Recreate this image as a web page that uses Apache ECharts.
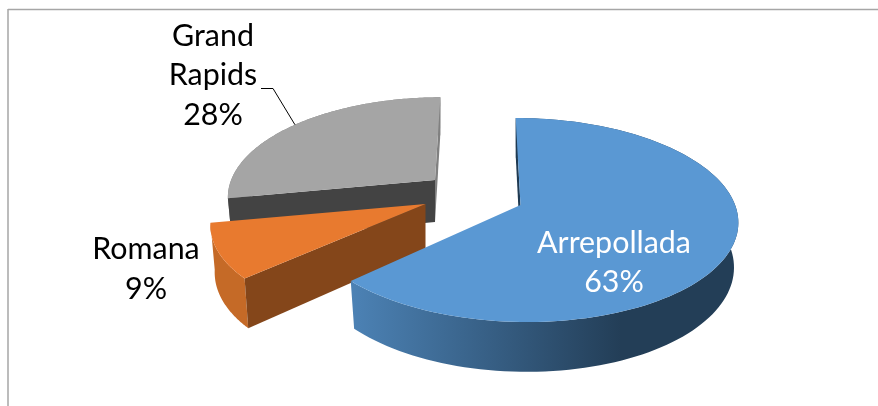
<!DOCTYPE html>
<html><head><meta charset="utf-8">
<style>html,body{margin:0;padding:0;background:#fff}#c{width:878px;height:406px}</style>
<script src="https://cdn.jsdelivr.net/npm/echarts@6/dist/echarts.min.js"></script>
</head><body><div id="c"></div>
<script>
const categories = ['Arrepollada', 'Romana', 'Grand Rapids'];
const values = [63, 9, 28];

const total = values.reduce((a, b) => a + b, 0);
const RX = 214.6, KR = 99.8, PERSP = 0.147, TAU = Math.PI * 2;
const looks = [
  { apex: [520.5, 205], scale: 1, shear: 0.055, depth: 44, layer: 30, top: '#5A98D3', rim: null, cutStart: '#1F3A52', cutEnd: null,
    label: [614, 262.5], color: '#ffffff' },
  { apex: [425.5, 204], scale: 0.98, shear: -0.14, depth: 46, layer: 20, top: '#E87A2F', rim: '#C56A27', cutStart: '#84461A', cutEnd: null,
    label: [146, 269], color: '#000000' },
  { apex: [435, 180], scale: 0.95, shear: -0.065, depth: 42, layer: 10, top: '#A5A5A5', rim: '#808080', cutStart: '#434343', cutEnd: '#808080',
    label: [213, 75.5], color: '#000000', leader: true }
];
const blueWall = new echarts.graphic.LinearGradient(351, 0, 737, 0, [
  { offset: 0, color: '#4C82B5' }, { offset: 0.7, color: '#233E57' }, { offset: 1, color: '#233E57' }
], true);

function project(look, frac) {
  const a = frac * TAU, x = Math.sin(a), y = -Math.cos(a), f = 1 / (1 - PERSP * y);
  const sy = KR * y * f * look.scale;
  const sx = RX * x * f * look.scale + look.shear * sy;
  return [look.apex[0] + sx, look.apex[1] + sy];
}
function lower(look, p) {
  const dx = p[0] - look.apex[0], dy = p[1] - look.apex[1];
  return [look.apex[0] + dx * 0.98, look.apex[1] + dy * 1.05 + look.depth];
}
function poly(points, fill, z2) {
  return { type: 'polygon', z2, shape: { points }, style: { fill, stroke: null } };
}
function renderItem(params, api) {
  const i = params.dataIndex, look = looks[i];
  let before = 0;
  for (let k = 0; k < i; k++) before += values[k];
  const f0 = before / total, f1 = (before + api.value(0)) / total;
  const arc = [];
  for (let n = 0; n <= 120; n++) arc.push(project(look, f0 + (f1 - f0) * n / 120));
  const lowArc = arc.map(p => lower(look, p));
  const apexLow = lower(look, look.apex);
  const start = arc[0], end = arc[arc.length - 1];
  const kids = [];
  const z = look.layer;
  kids.push(poly(arc.concat(lowArc.slice().reverse()), look.rim || blueWall, z));
  if (look.cutEnd) kids.push(poly([end, lowArc[lowArc.length - 1], apexLow, look.apex], look.cutEnd, z + 1));
  if (look.cutStart) kids.push(poly([start, lowArc[0], apexLow, look.apex], look.cutStart, z + 1));
  kids.push(poly([look.apex].concat(arc), look.top, z + 2));
  const pct = Math.round(api.value(0) / total * 100) + '%';
  kids.push({ type: 'text', z2: 60, style: {
    text: categories[i].replace(' ', '\n') + '\n' + pct,
    x: look.label[0], y: look.label[1], align: 'center', verticalAlign: 'middle',
    fontFamily: 'Lato', fontSize: 30.4, lineHeight: 39.5, fill: look.color
  }});
  if (look.leader) {
    const tip = project(look, (f0 + f1) / 2);
    kids.push({ type: 'polyline', z2: 61, shape: { points: [[261, 88.5], [273, 88.5], tip] },
      style: { stroke: '#000', lineWidth: 1, fill: null } });
  }
  return { type: 'group', children: kids };
}

const chart = echarts.init(document.getElementById('c'), null, { renderer: 'canvas' });
chart.setOption({
  animation: false,
  backgroundColor: '#ffffff',
  graphic: [
    { type: 'line', shape: { x1: 8, y1: 9.5, x2: 878, y2: 9.5 }, style: { stroke: '#A6A6A6', lineWidth: 1.5 } },
    { type: 'line', shape: { x1: 8, y1: 9, x2: 8, y2: 406 }, style: { stroke: '#A6A6A6', lineWidth: 1.5 } }
  ],
  series: [{
    type: 'custom',
    coordinateSystem: 'none',
    data: values.map((v, i) => ({ name: categories[i], value: [v] })),
    renderItem
  }]
});
</script></body></html>
